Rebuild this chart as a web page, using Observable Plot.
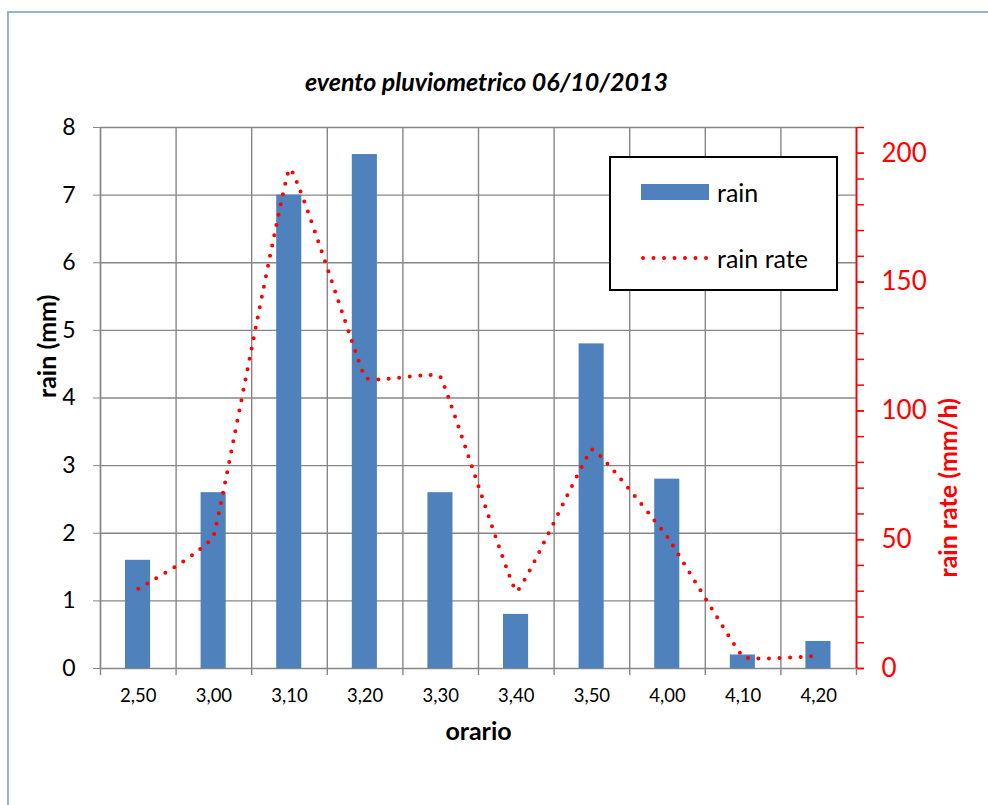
<!DOCTYPE html>
<html>
<head>
<meta charset="utf-8">
<script src="https://cdn.jsdelivr.net/npm/d3@7"></script>
<script src="https://cdn.jsdelivr.net/npm/@observablehq/plot@0.6"></script>
<style>
  html, body { margin: 0; padding: 0; background: #fff; }
  #wrap { position: relative; width: 988px; height: 805px; overflow: hidden; font-family: Lato, "Noto Sans", sans-serif; }
  #border { position: absolute; left: 7px; top: 11px; width: 1100px; height: 900px; border: 2px solid #95B3D7; box-sizing: border-box; }
  #chart { position: absolute; left: 0; top: 0; }
  #legend { position: absolute; left: 609px; top: 156px; width: 229px; height: 135px; border: 2px solid #000; background: #fff; box-sizing: border-box; }
  .lg-item { position: absolute; left: 30px; height: 20px; display: flex; align-items: center; font-size: 25px; color: #000; white-space: nowrap; }
  .lg-text { position: absolute; left: 76px; }
</style>
</head>
<body>
<div id="wrap">
  <div id="border"></div>
  <div id="chart"></div>
  <div id="legend">
    <div class="lg-item" style="top:24px"><div style="width:68px;height:16px;background:#4F81BD"></div><span class="lg-text">rain</span></div>
    <div class="lg-item" style="top:90px"><svg width="70" height="10" style="overflow:visible"><line x1="2" y1="5" x2="70" y2="5" stroke="red" stroke-width="4" stroke-dasharray="0 10.5" stroke-linecap="round"/></svg><span class="lg-text">rain rate</span></div>
  </div>
</div>
<script>
const categories = ["2,50","3,00","3,10","3,20","3,30","3,40","3,50","4,00","4,10","4,20"];
const rain = [1.6, 2.6, 7.0, 7.6, 2.6, 0.8, 4.8, 2.8, 0.2, 0.4];
const rainRate = [31, 52, 194, 113, 113, 30, 85, 51, 4.5, 5];
const leftTicks = [0,1,2,3,4,5,6,7,8];
const rightMajor = [0,50,100,150,200];
const rightMinor = d3.range(0, 211, 10);
const rightMax = 210;
const leftMax = 8;

const rows = categories.map((c, i) => ({cat: c, i, rain: rain[i], rate: rainRate[i]}));
const toLeft = v => v * leftMax / rightMax;
const boundaries = d3.range(0, categories.length + 1);
const centers = categories.map((c, i) => i + 0.5);
const gridColor = "#878787";

const chart = Plot.plot({
  width: 988,
  height: 805,
  marginLeft: 100,
  marginRight: 132,
  marginTop: 127,
  marginBottom: 137,
  style: {fontFamily: "Lato, 'Noto Sans', sans-serif", background: "transparent", color: "#000"},
  x: {domain: [0, categories.length]},
  y: {domain: [0, leftMax]},
  marks: [
    Plot.gridY(leftTicks, {stroke: gridColor, strokeOpacity: 1, strokeWidth: 1.4}),
    Plot.gridX(boundaries, {stroke: gridColor, strokeOpacity: 1, strokeWidth: 1.4}),
    Plot.rectY(rows, {x1: "i", x2: d => d.i + 1, y: "rain", fill: "#4F81BD", insetLeft: 25, insetRight: 25.5}),
    Plot.line(rows, {x: d => d.i + 0.5, y: d => toLeft(d.rate), stroke: "red", strokeWidth: 4, strokeDasharray: "0 10.5", strokeLinecap: "round", curve: d3.curveCardinal.tension(0.78)}),
    Plot.ruleX([0], {stroke: gridColor, strokeWidth: 1.4}),
    Plot.ruleX([categories.length], {stroke: "red", strokeWidth: 1.8}),
    Plot.axisY(leftTicks, {anchor: "left", tickSize: 7, tickPadding: 18, fontSize: 23, stroke: gridColor, fill: "#000", tickFormat: d => String(d), label: null}),
    Plot.axisY(rightMinor.map(toLeft), {anchor: "right", tickSize: 7, tickFormat: () => "", stroke: "red", strokeWidth: 1.5, label: null}),
    Plot.axisY(rightMajor.map(toLeft), {anchor: "right", tickSize: 7, tickPadding: 18, fontSize: 26, stroke: "red", strokeWidth: 1.5, fill: "red", tickFormat: d => String(Math.round(d * rightMax / leftMax)), label: null}),
    Plot.axisX(boundaries, {anchor: "bottom", tickSize: 7, tickFormat: () => "", stroke: gridColor, strokeWidth: 1.4, label: null}),
    Plot.axisX(centers, {anchor: "bottom", tickSize: 0, tickPadding: 20, fontSize: 18.5, fill: "#000", tickFormat: d => categories[Math.round(d - 0.5)], label: null}),
    Plot.text(["evento pluviometrico 06/10/2013"], {frameAnchor: "top", dx: 8, dy: -54, fontSize: 25, fontWeight: "bold", fontStyle: "italic", fill: "#000"}),
    Plot.text(["orario"], {frameAnchor: "bottom", dy: 71, fontSize: 25, fontWeight: "bold", fill: "#000"}),
    Plot.text(["rain (mm)"], {frameAnchor: "left", dx: -53, rotate: -90, fontSize: 25, fontWeight: "bold", fill: "#000"}),
    Plot.text(["rain rate (mm/h)"], {frameAnchor: "right", dx: 92, rotate: -90, fontSize: 25, fontWeight: "bold", fill: "red"})
  ]
});
document.getElementById("chart").appendChild(chart);
</script>
</body>
</html>
